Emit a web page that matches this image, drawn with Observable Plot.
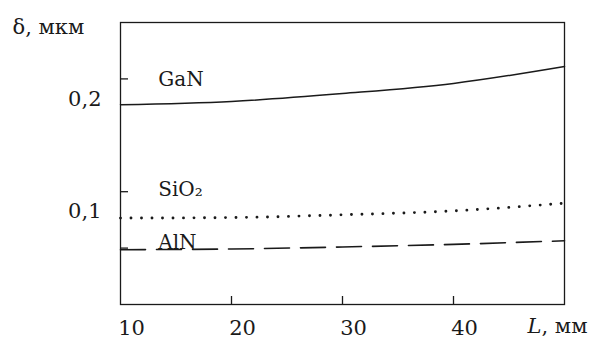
<!DOCTYPE html>
<html>
<head>
<meta charset="utf-8">
<script src="https://cdn.jsdelivr.net/npm/d3@7"></script>
<script src="https://cdn.jsdelivr.net/npm/@observablehq/plot@0.6"></script>
<style>
  html, body { margin: 0; padding: 0; background: #fff; }
  #chart svg { display: block; }
</style>
</head>
<body>
<div id="chart"></div>
<script>
// Data
const lengths = [10, 20, 30, 40, 50];               // L, мм
const ganValues = [0.177, 0.180, 0.187, 0.196, 0.211];
const sio2Values = [0.0766, 0.0771, 0.0795, 0.0830, 0.0898];
const alnValues = [0.0486, 0.0492, 0.0510, 0.0533, 0.0565];

const seriesNames = ["GaN", "SiO₂", "AlN"];
const seriesLabelX = [13.4, 13.4, 13.4];
const seriesLabelY = [0.194, 0.096, 0.0495];

const yTickMarks = [0.05, 0.1, 0.2];
const yTickLabels = [0.1, 0.2];
const xTickMarks = [20, 30, 40];
const xTickLabels = [10, 20, 30, 40];

const rows = lengths.map((L, i) => ({L, gan: ganValues[i], sio2: sio2Values[i], aln: alnValues[i]}));
const labels = seriesNames.map((name, i) => ({name, x: seriesLabelX[i], y: seriesLabelY[i]}));

const FONT = "DejaVu Serif";
const FS = 21;
const FS_LABEL = 20;
const INK = "#1a1a1a";

const chart = Plot.plot({
  width: 592,
  height: 345,
  marginLeft: 120,
  marginRight: 28,
  marginTop: 22,
  marginBottom: 41,
  style: {fontFamily: FONT, fontSize: FS + "px", color: INK, background: "#fff"},
  x: {domain: [10, 50]},
  y: {domain: [0, 0.25]},
  marks: [
    Plot.frame({stroke: INK, strokeWidth: 1.3}),
    Plot.axisY(yTickMarks, {tickSize: -8, text: null, label: null, stroke: INK, strokeWidth: 1.3}),
    Plot.axisX(xTickMarks, {tickSize: -8, text: null, label: null, stroke: INK, strokeWidth: 1.3}),
    Plot.axisY(yTickLabels, {tickSize: 0, tickPadding: 19, dy: 20, label: null, fontSize: FS, fontFamily: FONT,
      tickFormat: d => d.toFixed(1).replace(".", ",")}),
    Plot.axisX(xTickLabels, {tickSize: 0, tickPadding: 16, dx: 11, label: null, fontSize: FS, fontFamily: FONT,
      tickFormat: d => String(d)}),
    Plot.line(rows, {x: "L", y: "gan", stroke: INK, strokeWidth: 1.5, curve: "monotone-x"}),
    Plot.line(rows, {x: "L", y: "sio2", stroke: INK, strokeWidth: 2.9, strokeDasharray: "0,10.5",
      strokeLinecap: "round", curve: "monotone-x"}),
    Plot.line(rows, {x: "L", y: "aln", stroke: INK, strokeWidth: 1.6, strokeDasharray: "25,11",
      curve: "monotone-x"}),
    Plot.text(labels, {x: "x", y: "y", text: "name", textAnchor: "start", lineAnchor: "bottom",
      fontSize: FS_LABEL, fontFamily: FONT, fill: INK}),
    Plot.text(["δ, мкм"], {frameAnchor: "top-left", dx: -108, dy: 11, textAnchor: "start",
      lineAnchor: "bottom", fontSize: FS, fontFamily: FONT, fill: INK}),
    Plot.text(["L"], {frameAnchor: "bottom-right", dx: -37, dy: 28, textAnchor: "start",
      lineAnchor: "bottom", fontSize: FS, fontFamily: FONT, fontStyle: "italic", fill: INK}),
    Plot.text([", мм"], {frameAnchor: "bottom-right", dx: -23, dy: 28, textAnchor: "start",
      lineAnchor: "bottom", fontSize: FS, fontFamily: FONT, fill: INK})
  ]
});
document.getElementById("chart").appendChild(chart);
</script>
</body>
</html>
